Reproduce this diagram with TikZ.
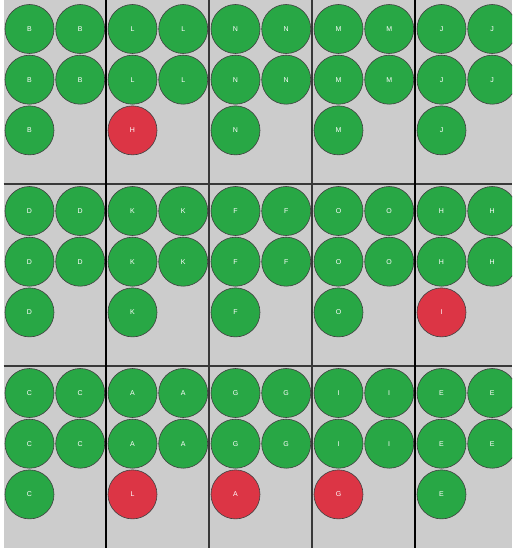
\documentclass[tikz,border=0pt]{standalone}
\usepackage{fontspec}
\setmainfont{Liberation Sans}
\definecolor{bggray}{HTML}{CCCCCC}
\definecolor{okgreen}{HTML}{28A745}
\definecolor{badred}{HTML}{DC3545}
\begin{document}
\begin{tikzpicture}[x=1pt,y=-1pt,
  ball/.style={circle, minimum size=49pt, inner sep=0pt, draw=black!75,
    line width=0.6pt, text=white, font=\fontsize{7}{8}\selectfont},
  vsep/.style={draw=black, line width=1.7pt},
  msep/.style={draw=black!78, line width=1.2pt},
  hsep/.style={draw=black!78, line width=1.3pt}]
\useasboundingbox (0,0) rectangle (512,548);
\clip (0,0) rectangle (512,548);
\fill[bggray] (3.5,0) rectangle (512,548);
% cells
\foreach \l/\f/\fc [count=\k from 0] in {
  B/B/okgreen, L/H/badred, N/N/okgreen, M/M/okgreen, J/J/okgreen,
  D/D/okgreen, K/K/okgreen, F/F/okgreen, O/O/okgreen, H/I/badred,
  C/C/okgreen, A/L/badred, G/A/badred, I/G/badred, E/E/okgreen} {
  \pgfmathtruncatemacro\ci{mod(\k,5)}
  \pgfmathtruncatemacro\ri{div(\k,5)}
  \pgfmathsetmacro\xo{3.5+103*\ci+26}
  \pgfmathsetmacro\yo{2+182*\ri+27}
  \node[ball, fill=okgreen] (n\k a) at (\xo,\yo) {\l};
  \node[ball, fill=okgreen] (n\k b) at (\xo+50.7,\yo) {\l};
  \node[ball, fill=okgreen] (n\k c) at (\xo,\yo+50.7) {\l};
  \node[ball, fill=okgreen] (n\k d) at (\xo+50.7,\yo+50.7) {\l};
  \node[ball, fill=\fc] (n\k e) at (\xo,\yo+101.4) {\f};
}
% separators
\foreach \y in {184,366} {\draw[hsep] (3.5,\y) -- (512,\y);}
\foreach \x in {209,312} {\draw[msep] (\x,0) -- (\x,548);}
\foreach \x in {106,415} {\draw[vsep] (\x,0) -- (\x,548);}
\end{tikzpicture}
\end{document}
